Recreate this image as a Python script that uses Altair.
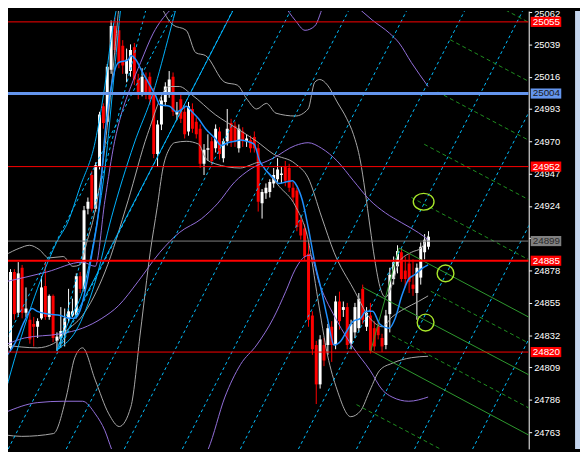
import altair as alt
import pandas as pd

# ---------------- candles (index 0..109) ----------------
opens = [24798, 24823, 24877, 24848, 24880, 24848, 24843, 24840, 24838, 24844,
         24867, 24845, 24860, 24828, 24830, 24833, 24844, 24846, 24846, 24874,
         24865, 24922, 24946, 24922, 24952, 24995, 24984, 25021, 25052, 25049,
         25038, 25018, 25020, 25037, 25014, 25005, 25014, 25016, 25005, 24961,
         24982, 24998, 25004, 25016, 24989, 25000, 24991, 24977, 24993, 24984,
         24979, 24954, 24964, 24970, 24965, 24977, 24958, 24970, 24983, 24981,
         24965, 24977, 24970, 24971, 24973, 24965, 24926, 24933, 24934, 24940,
         24943, 24946, 24952, 24951, 24937, 24935, 24914, 24908, 24890, 24846,
         24825, 24797, 24825, 24825, 24838, 24825, 24856, 24850, 24852, 24826,
         24834, 24837, 24865, 24838, 24846, 24837, 24838, 24830, 24825, 24847,
         24872, 24881, 24891, 24878, 24883, 24868, 24862, 24873, 24891, 24895]
highs = [24830, 24879, 24879, 24884, 24882, 24866, 24848, 24845, 24844, 24874,
         24884, 24861, 24861, 24834, 24852, 24851, 24865, 24858, 24876, 24877,
         24924, 24930, 24949, 24955, 24991, 24997, 25025, 25056, 25058, 25052,
         25042, 25036, 25039, 25040, 25018, 25022, 25019, 25019, 25008, 24985,
         25002, 25012, 25020, 25019, 24998, 25004, 24995, 24998, 24997, 24987,
         24982, 24968, 24975, 24973, 24982, 24980, 24972, 24993, 24986, 24984,
         24982, 24980, 24975, 24974, 24977, 24968, 24936, 24940, 24943, 24951,
         24958, 24952, 24956, 24954, 24941, 24937, 24916, 24911, 24898, 24849,
         24828, 24832, 24830, 24840, 24842, 24860, 24863, 24856, 24855, 24843,
         24855, 24862, 24868, 24852, 24855, 24842, 24843, 24833, 24850, 24880,
         24888, 24896, 24894, 24888, 24890, 24886, 24883, 24898, 24904, 24906]
lows = [24793, 24820, 24843, 24845, 24844, 24845, 24826, 24824, 24830, 24843,
        24843, 24843, 24827, 24821, 24823, 24824, 24841, 24845, 24844, 24862,
        24863, 24918, 24920, 24920, 24950, 24979, 24982, 25018, 25032, 25022,
        25018, 25012, 25016, 25010, 25000, 25002, 25000, 24996, 24958, 24952,
        24978, 24995, 25001, 24988, 24985, 24983, 24972, 24974, 24976, 24972,
        24951, 24946, 24956, 24953, 24962, 24957, 24955, 24967, 24966, 24966,
        24962, 24966, 24966, 24962, 24962, 24920, 24915, 24929, 24930, 24937,
        24940, 24940, 24938, 24934, 24927, 24906, 24900, 24885, 24838, 24818,
        24783, 24794, 24810, 24818, 24813, 24822, 24836, 24845, 24822, 24822,
        24830, 24834, 24840, 24835, 24819, 24821, 24829, 24820, 24822, 24834,
        24868, 24876, 24870, 24866, 24862, 24860, 24843, 24868, 24886, 24893]
closes = [24825, 24877, 24847, 24876, 24848, 24851, 24829, 24838, 24842, 24866,
          24845, 24860, 24830, 24831, 24835, 24844, 24849, 24849, 24874, 24865,
          24921, 24927, 24922, 24953, 24989, 24983, 25023, 25052, 25035, 25026,
          25024, 25028, 25035, 25014, 25005, 25016, 25004, 25000, 24961, 24982,
          24999, 25009, 25014, 24991, 24991, 24986, 24975, 24995, 24979, 24975,
          24954, 24964, 24965, 24956, 24979, 24961, 24970, 24979, 24970, 24970,
          24979, 24970, 24972, 24965, 24965, 24927, 24934, 24937, 24941, 24946,
          24950, 24947, 24942, 24937, 24930, 24909, 24903, 24888, 24843, 24822,
          24797, 24829, 24814, 24837, 24825, 24856, 24842, 24852, 24825, 24840,
          24852, 24858, 24843, 24848, 24821, 24824, 24832, 24824, 24846, 24875,
          24884, 24892, 24872, 24872, 24870, 24865, 24880, 24895, 24900, 24902]

# ---------------- indicator lines (candle index, price) ----------------
ma_i = [-0.4, 2.1, 4.6, 6.6, 7.9, 10.9, 13.9, 16.4, 17.6, 18.9, 20.4, 22.1, 23.9, 25.4, 27.1, 28.9,
        31.4, 32.1, 33.4, 35.1, 36.6, 38.4, 39.6, 42.1, 43.9, 45.4, 46.4, 47.9, 49.6, 51.4, 53.9,
        55.4, 57.1, 58.9, 60.4, 62.1, 63.9, 65.4, 67.1, 68.9, 70.4, 72.1, 73.9, 74.6, 76.4, 77.9,
        79.6, 81.4, 82.9, 84.6, 86.4, 87.9, 89.6, 91.4, 92.9, 94.6, 96.4, 98.9, 100.4, 102.1,
        103.9, 105.4, 107.1, 108.9]
ma_p = [24816, 24826, 24842, 24851, 24849, 24847, 24846, 24844, 24844, 24849, 24865, 24891, 24923,
        24975, 25010, 25026, 25028, 25031, 25028, 25019, 25012, 25003, 24996, 24995, 24991, 24993,
        24995, 24991, 24986, 24979, 24972, 24967, 24969, 24970, 24971, 24970, 24968, 24956, 24949,
        24944, 24940, 24941, 24942, 24940, 24928, 24909, 24884, 24863, 24844, 24825, 24828, 24835,
        24842, 24844, 24849, 24849, 24840, 24837, 24844, 24860, 24872, 24875, 24879, 24882]

bbu_i = [-0.4, 3.4, 5.9, 8.4, 10.9, 14.6, 17.1, 18.9, 20.9, 22.6, 24.6, 26.4, 27.9, 29.1, 30.9,
         37.1, 39.6, 42.9, 46.4, 48.9, 51.4, 56.4, 59.6, 62.1, 64.6, 67.1, 69.6, 74.6, 77.9, 79.6,
         80.9, 82.9, 85.4, 87.9, 89.6, 91.4, 92.6, 93.9, 95.1, 96.6, 97.9, 99.6, 101.4, 104.6,
         107.1, 108.9]
bbu_p = [24889, 24894, 24896, 24893, 24887, 24888, 24881, 24882, 24900, 24917, 24949, 24991, 25033,
         25068, 25096, 25086, 25068, 25053, 25049, 25033, 25031, 25012, 25010, 25000, 24993, 24997,
         24990, 24988, 24993, 25012, 25014, 25010, 24998, 24986, 24975, 24956, 24935, 24909, 24886,
         24865, 24859, 24868, 24884, 24891, 24894, 24903]
bbm_i = [-0.4, 7.9, 12.1, 15.4, 19.6, 25.4, 31.4, 36.4, 42.1, 44.6, 47.9, 53.9, 59.6, 64.6, 68.9,
         74.6, 77.9, 81.4, 84.6, 89.6, 93.9, 97.1, 99.6, 102.9, 106.4, 108.9]
bbm_p = [24825, 24823, 24826, 24835, 24846, 24877, 24928, 24975, 25009, 25009, 25003, 24989, 24979,
         24970, 24961, 24954, 24944, 24916, 24891, 24865, 24844, 24838, 24845, 24851, 24856, 24860]
bbl_i = [-0.4, 3.9, 12.1, 15.4, 17.6, 19.6, 22.9, 26.4, 29.1, 32.1, 34.6, 37.1, 38.9, 40.4, 42.1,
         43.4, 46.4, 49.6, 51.4, 53.9, 60.4, 62.9, 65.1, 67.1, 70.4, 74.6, 77.9, 80.4, 82.9, 85.4,
         88.9, 91.4, 93.9, 96.4, 99.6, 104.6, 108.9]
bbl_p = [24761, 24760, 24762, 24788, 24816, 24823, 24800, 24776, 24767, 24781, 24835, 24891, 24923,
         24951, 24965, 24969, 24970, 24968, 24958, 24954, 24951, 24953, 24955, 24949, 24938, 24924,
         24900, 24858, 24818, 24793, 24774, 24778, 24793, 24807, 24812, 24816, 24817]

pm_i = [-0.4, 4.6, 13.9, 19.6, 24.6, 28.9, 33.9, 39.6, 44.6, 50.4, 54.6, 58.9, 62.9, 68.9, 74.6,
        77.9, 81.4, 85.4, 89.6, 93.9, 97.9, 102.1, 106.4, 108.9]
pm_p = [24825, 24830, 24833, 24837, 24844, 24853, 24870, 24891, 24905, 24915, 24926, 24941, 24950,
        24958, 24967, 24969, 24965, 24956, 24942, 24928, 24919, 24912, 24905, 24900]
pu_i = [-0.4, 10.4, 19.6, 22.9, 25.4, 27.9, 29.6, 32.1, 34.6, 37.9, 42.1, 44.1, 49.6, 62.1, 69.6,
        71.4, 74.6, 77.1, 79.6, 82.1, 85.9, 89.6, 94.6, 98.9, 101.4, 104.6, 108.9]
pu_p = [24870, 24877, 24884, 24881, 24928, 24970, 24989, 25009, 25026, 25047, 25063, 25068, 25086,
        25089, 25075, 25068, 25056, 25049, 25052, 25068, 25077, 25068, 25056, 25047, 25040, 25026,
        25009]
pl_i = [-0.4, 7.9, 14.6, 19.6, 22.9, 25.4, 27.1, 29.6, 47.1, 52.1, 56.4, 60.4, 64.6, 68.9, 72.1,
        74.6, 77.1, 78.4, 80.9, 85.4, 89.6, 93.9, 97.1, 99.6, 103.9, 108.9]
pl_p = [24777, 24784, 24785, 24785, 24776, 24764, 24751, 24735, 24731, 24751, 24788, 24811, 24825,
        24844, 24863, 24879, 24888, 24889, 24868, 24842, 24823, 24807, 24793, 24788, 24785, 24788]

# ---------------- drawn trend lines ----------------
tl_a_i = [-0.4, 2.9, 6.4, 9.6, 12.9, 15.9, 18.9, 22.9, 25.4, 27.1, 28.6, 29.6]
tl_a_p = [24791, 24823, 24853, 24877, 24898, 24913, 24937, 24970, 25010, 25045, 25068, 25086]
tl_b_i = [12.9, 16.4, 19.6, 22.9, 25.4, 27.9, 29.6, 30.6]
tl_b_p = [24821, 24844, 24863, 24905, 24951, 25021, 25068, 25089]
tl_c_i = [13.6, 17.9, 22.9, 27.1, 32.9, 37.9, 42.1, 44.1, 45.9]
tl_c_p = [24823, 24835, 24870, 24916, 24968, 25005, 25047, 25068, 25086]
tl_e_i = [13.1, 62.6]
tl_e_p = [24821, 25085]

fan_i = [13.1, 36.4]
fan_p = [24821, 25068]

grid_bottom_i = [-14.6, 0.4, 15.4, 30.4, 45.4, 60.4, 75.4, 90.4, 105.4, 120.4]
grid_top_i = [44.3, 59.3, 74.3, 89.3, 104.3, 119.3, 134.3, 149.3, 164.3, 179.3]
grid_bottom_p = [24751, 24751, 24751, 24751, 24751, 24751, 24751, 24751, 24751, 24751]
grid_top_p = [25068, 25068, 25068, 25068, 25068, 25068, 25068, 25068, 25068, 25068]

fork_upper_i = [101.4, 139.6]
fork_upper_p = [24894, 24838]
fork_median_i = [92.1, 139.6]
fork_median_p = [24866, 24797]
fork_lower_i = [94.1, 139.6]
fork_lower_p = [24821, 24754]
fork_handle_i = [94.1, 101.4]
fork_handle_p = [24821, 24894]

fork_level_start_i = [117.9, 114.6, 111.4, 107.9, 104.6, 109.6, 99.6, 90.4]
fork_level_start_p = [25079.5, 25042.3, 25005.1, 24967.9, 24930.0, 24863.3, 24831.8, 24782.6]
fork_level_end_i = [139.6, 139.6, 139.6, 139.6, 139.6, 139.6, 139.6, 139.6]
fork_level_end_p = [25047.8, 25005.8, 24963.9, 24921.6, 24878.9, 24819.5, 24773.4, 24710.8]

ellipse_i = [107.75]
ellipse_p = [24927]
circle_i = [113.4, 108.25]
circle_p = [24876, 24841]

# ---------------- price levels & axis ----------------
red_levels = [25055, 24952, 24820]
red_level_bold = [24885]
blue_level = [25004]
gray_level = [24899]
tick_values = [25062, 25039, 25016, 24993, 24970, 24947, 24924, 24901, 24878, 24855,
               24832, 24809, 24786, 24763]

# ---------------- chart ----------------
W, H = 528, 444
xscale = alt.Scale(domain=[1.625, 133.625], nice=False, zero=False)
yscale = alt.Scale(domain=[24751.05, 25062.7], nice=False, zero=False)
yaxis = alt.Axis(orient="right", values=tick_values, format="d", title=None, grid=False,
                 labelColor="#ffffff", labelFont="Liberation Sans", labelFontSize=9.5,
                 labelPadding=2, tickColor="#ffffff", tickSize=3, domainColor="#ffffff",
                 labelOverlap=False, labelFlush=False,
                 labelOffset={"condition": {"test": "datum.value >= 25060", "value": 2}, "value": 0})


def xenc(f="i"):
    return alt.X(f"{f}:Q", scale=xscale, axis=None)


def yenc(f="p"):
    return alt.Y(f"{f}:Q", scale=yscale, axis=yaxis)


def lines_df(named):
    rows = []
    for name, xs, ys in named:
        for a, b in zip(xs, ys):
            rows.append({"s": name, "i": a, "p": b})
    return pd.DataFrame(rows)


def line_layer(df, color, width=1.0, dash=None, interp="linear"):
    kw = dict(color=color, strokeWidth=width, clip=True, interpolate=interp)
    if dash:
        kw["strokeDash"] = dash
    return alt.Chart(df).mark_line(**kw).encode(x=xenc(), y=yenc(), detail="s:N", order="i:Q")


cdf = pd.DataFrame({"i": list(range(len(opens))), "o": opens, "h": highs, "l": lows, "c": closes})
ccolor = alt.condition("datum.c >= datum.o", alt.value("#ffffff"), alt.value("#ff0000"))
wicks = alt.Chart(cdf).mark_rule(clip=True, strokeWidth=1).encode(
    x=xenc(), y=yenc("l"), y2="h:Q", color=ccolor)
bodies = alt.Chart(cdf).mark_bar(clip=True, size=3).encode(
    x=xenc(), y=yenc("o"), y2="c:Q", color=ccolor)

gray_df = lines_df([("u", bbu_i, bbu_p), ("m", bbm_i, bbm_p), ("l", bbl_i, bbl_p)])
purple_df = lines_df([("u", pu_i, pu_p), ("m", pm_i, pm_p), ("l", pl_i, pl_p)])
ma_df = lines_df([("ma", ma_i, ma_p)])
tl_df = lines_df([("a", tl_a_i, tl_a_p), ("b", tl_b_i, tl_b_p), ("c", tl_c_i, tl_c_p),
                  ("e", tl_e_i, tl_e_p)])
grid_df = lines_df([(f"g{k}", [grid_bottom_i[k], grid_top_i[k]], [grid_bottom_p[k], grid_top_p[k]])
                    for k in range(len(grid_bottom_i))] + [("fan", fan_i, fan_p)])
fork_df = lines_df([("u", fork_upper_i, fork_upper_p), ("m", fork_median_i, fork_median_p),
                    ("l", fork_lower_i, fork_lower_p), ("h", fork_handle_i, fork_handle_p)])
lev_df = lines_df([(f"v{k}", [fork_level_start_i[k], fork_level_end_i[k]],
                    [fork_level_start_p[k], fork_level_end_p[k]])
                   for k in range(len(fork_level_start_i))])

grid = line_layer(grid_df, "#00bfff", 1, dash=[3, 3])
levs = line_layer(lev_df, "#1f8f1f", 1, dash=[4, 3])
fork = line_layer(fork_df, "#2f9a2f", 1)
gray = line_layer(gray_df, "#a9a9a9", 1, interp="monotone")
purple = line_layer(purple_df, "#9370db", 1, interp="monotone")
tls = line_layer(tl_df, "#00b4ff", 1, interp="monotone")
ma = line_layer(ma_df, "#1e90ff", 1.5, interp="monotone")


def hrule(vals, color, width):
    return alt.Chart(pd.DataFrame({"p": vals})).mark_rule(
        color=color, strokeWidth=width, clip=True).encode(y=yenc())


rules = [hrule(red_levels, "#ff0000", 1), hrule(red_level_bold, "#ff0000", 2),
         hrule(blue_level, "#6495ed", 3), hrule(gray_level, "#808080", 1)]

ell_shape = "M-1,0A1,0.81,0,1,1,1,0A1,0.81,0,1,1,-1,0Z"
ell = alt.Chart(pd.DataFrame({"i": ellipse_i, "p": ellipse_p})).mark_point(
    shape=ell_shape, size=441, filled=False, color="#a8e62a", strokeWidth=1.4, opacity=1,
    clip=True).encode(x=xenc(), y=yenc())
circ = alt.Chart(pd.DataFrame({"i": circle_i, "p": circle_p})).mark_point(
    shape="circle", size=289, filled=False, color="#a8e62a", strokeWidth=1.4, opacity=1,
    clip=True).encode(x=xenc(), y=yenc())


def box_layers(vals, bg, fg):
    df = pd.DataFrame({"p": vals})
    rect = alt.Chart(df).transform_calculate(lo="datum.p - 3.6", hi="datum.p + 3.6").mark_rect(
        color=bg, clip=False).encode(x=alt.value(530), x2=alt.value(561), y=yenc("lo"), y2="hi:Q")
    txt = alt.Chart(df).mark_text(align="left", baseline="middle", font="Liberation Sans",
                                  fontSize=10, color=fg, clip=False).encode(
        x=alt.value(532), y=yenc(), text=alt.Text("p:Q", format="d"))
    return [rect, txt]


boxes = (box_layers(red_levels + red_level_bold, "#ff0000", "#ffffff")
         + box_layers(blue_level, "#6495ed", "#1a1a1a")
         + box_layers(gray_level, "#808080", "#2a2a2a"))

strip = alt.Chart(pd.DataFrame({"a": [0]})).mark_rect(color="#c6d6ee", clip=False).encode(
    x=alt.value(575), x2=alt.value(580), y=alt.value(0), y2=alt.value(H))

layers = [wicks, bodies, gray, purple, grid, tls, levs, fork, ma] + rules + [ell, circ] + boxes + [strip]

chart = alt.layer(*layers).properties(
    width=W, height=H, background="#000000",
    padding={"left": 0, "top": 0, "right": 52, "bottom": 0},
    autosize=alt.AutoSizeParams(type="none"),
).configure_view(strokeWidth=0)

chart.save("out.html", embed_options={"renderer": "svg", "actions": False})
